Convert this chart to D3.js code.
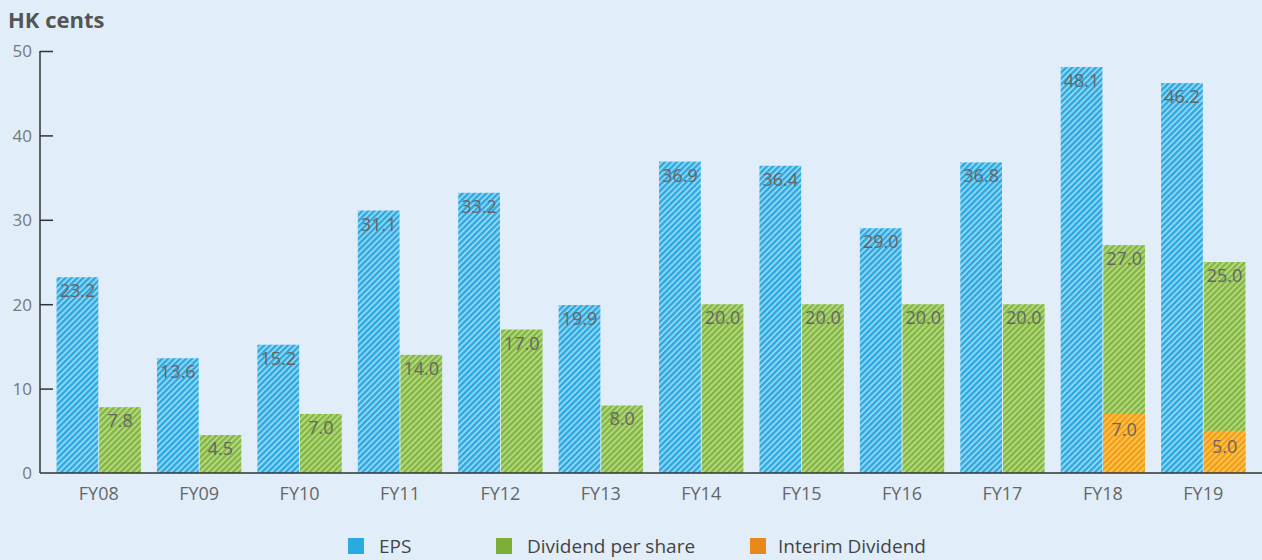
<!DOCTYPE html>
<html>
<head>
<meta charset="utf-8">
<script src="https://cdn.jsdelivr.net/npm/d3@7"></script>
<style>
  body { margin: 0; background: #e1eef9; }
  svg { display: block; font-family: "Open Sans", sans-serif; }
</style>
</head>
<body>
<svg id="chart"></svg>
<script>
// data
var years = ["FY08","FY09","FY10","FY11","FY12","FY13","FY14","FY15","FY16","FY17","FY18","FY19"];
var eps = [23.2, 13.6, 15.2, 31.1, 33.2, 19.9, 36.9, 36.4, 29.0, 36.8, 48.1, 46.2];
var dividend = [7.8, 4.5, 7.0, 14.0, 17.0, 8.0, 20.0, 20.0, 20.0, 20.0, 27.0, 25.0];
var interim = [0, 0, 0, 0, 0, 0, 0, 0, 0, 0, 7.0, 5.0];
var yTicks = [0, 10, 20, 30, 40, 50];
var legendNames = ["EPS", "Dividend per share", "Interim Dividend"];

function main(){
    var W = 1262, H = 560;
    var font = '"Open Sans", sans-serif';
    var svg = d3.select("#chart").attr("width", W).attr("height", H);

    svg.append("rect").attr("width", W).attr("height", H).attr("fill", "#e1eef9");

    // hatch patterns
    var defs = svg.append("defs");
    var hatches = [
        {id: "hEps", dark: "#29a9e0", light: "#93d5f3"},
        {id: "hDiv", dark: "#82b541", light: "#b4d982"},
        {id: "hInt", dark: "#f39a1c", light: "#fcc548"}
    ];
    hatches.forEach(function(h){
        var p = defs.append("pattern")
            .attr("id", h.id)
            .attr("patternUnits", "userSpaceOnUse")
            .attr("width", 4.2).attr("height", 4.2)
            .attr("patternTransform", "rotate(45)");
        p.append("rect").attr("width", 4.2).attr("height", 4.2).attr("fill", h.light);
        p.append("rect").attr("width", 2.3).attr("height", 4.2).attr("fill", h.dark);
    });

    var x = d3.scaleBand()
        .domain(years)
        .range([40, 1262])
        .paddingInner(0.16)
        .paddingOuter(0.165);

    var xSub = d3.scaleBand()
        .domain(["eps", "div"])
        .range([0, x.bandwidth()])
        .paddingInner(0.02);

    var y = d3.scaleLinear()
        .domain([0, 50])
        .range([473, 51]);

    // y axis
    var yAxis = svg.append("g")
        .attr("transform", "translate(40,0)")
        .call(d3.axisRight(y).tickValues(yTicks).tickSize(13).tickFormat(d3.format("d")));
    yAxis.attr("font-family", font);
    yAxis.select(".domain").remove();
    yAxis.selectAll(".tick line").attr("stroke", "#333").attr("stroke-width", 1.5);
    yAxis.selectAll(".tick text")
        .attr("x", -8).attr("dy", "0.35em")
        .attr("text-anchor", "end")
        .attr("fill", "#777").attr("font-size", "17px");
    yAxis.select(".tick:first-of-type line").remove();

    svg.append("line")
        .attr("x1", 40).attr("x2", 40)
        .attr("y1", y(50)).attr("y2", y(0))
        .attr("stroke", "#333").attr("stroke-width", 1.5);

    var groups = svg.selectAll(".grp")
        .data(years)
        .enter()
        .append("g")
        .attr("class", "grp")
        .attr("transform", function(d){ return "translate(" + x(d) + ",0)"; });

    // EPS
    groups.append("rect")
        .attr("x", xSub("eps"))
        .attr("width", xSub.bandwidth())
        .attr("y", function(d,i){ return y(eps[i]); })
        .attr("height", function(d,i){ return y(0) - y(eps[i]); })
        .attr("fill", "url(#hEps)");

    // dividend
    groups.append("rect")
        .attr("x", xSub("div"))
        .attr("width", xSub.bandwidth())
        .attr("y", function(d,i){ return y(dividend[i]); })
        .attr("height", function(d,i){ return y(0) - y(dividend[i]); })
        .attr("fill", "url(#hDiv)");

    // interim dividend
    groups.filter(function(d,i){ return interim[i] > 0; })
        .append("rect")
        .attr("x", xSub("div"))
        .attr("width", xSub.bandwidth())
        .attr("y", function(d){ return y(interim[years.indexOf(d)]); })
        .attr("height", function(d){ return y(0) - y(interim[years.indexOf(d)]); })
        .attr("fill", "url(#hInt)");

    var lab = {fill: "#666", size: "18px"};
    groups.append("text")
        .attr("x", xSub("eps") + xSub.bandwidth()/2)
        .attr("y", function(d,i){ return y(eps[i]) + 20; })
        .attr("text-anchor", "middle")
        .attr("fill", lab.fill).attr("font-size", lab.size)
        .text(function(d,i){ return eps[i].toFixed(1); });

    groups.append("text")
        .attr("x", xSub("div") + xSub.bandwidth()/2)
        .attr("y", function(d,i){ return y(dividend[i]) + 20; })
        .attr("text-anchor", "middle")
        .attr("fill", lab.fill).attr("font-size", lab.size)
        .text(function(d,i){ return dividend[i].toFixed(1); });

    groups.filter(function(d,i){ return interim[i] > 0; })
        .append("text")
        .attr("x", xSub("div") + xSub.bandwidth()/2)
        .attr("y", function(d){ return y(interim[years.indexOf(d)]) + 22; })
        .attr("text-anchor", "middle")
        .attr("fill", lab.fill).attr("font-size", lab.size)
        .text(function(d){ return interim[years.indexOf(d)].toFixed(1); });

    // x axis
    var xAxis = svg.append("g")
        .attr("transform", "translate(0," + y(0) + ")")
        .call(d3.axisBottom(x).tickSize(0).tickPadding(14));
    xAxis.attr("font-family", font);
    xAxis.select(".domain").remove();
    xAxis.selectAll("text").attr("fill", "#666").attr("font-size", "18px");
    svg.append("line")
        .attr("x1", 40).attr("x2", 1262)
        .attr("y1", y(0)).attr("y2", y(0))
        .attr("stroke", "#333").attr("stroke-width", 1.5);

    // title
    svg.append("text")
        .attr("x", 8).attr("y", 28)
        .attr("font-size", "22px").attr("font-weight", "bold")
        .attr("fill", "#555")
        .text("HK cents");

    // legend
    var legendX = [348, 496, 750];
    var legendCol = ["#29abe2", "#7cad34", "#e8891a"];
    var leg = svg.selectAll(".leg")
        .data(legendNames)
        .enter()
        .append("g")
        .attr("transform", function(d,i){ return "translate(" + legendX[i] + ",538)"; });
    leg.append("rect").attr("width", 16).attr("height", 16)
        .attr("fill", function(d,i){ return legendCol[i]; });
    leg.append("text")
        .attr("x", function(d,i){ return [31, 31, 28][i]; })
        .attr("y", 15)
        .attr("fill", "#444").attr("font-size", "19px")
        .text(function(d){ return d; });
}
main();
</script>
</body>
</html>
